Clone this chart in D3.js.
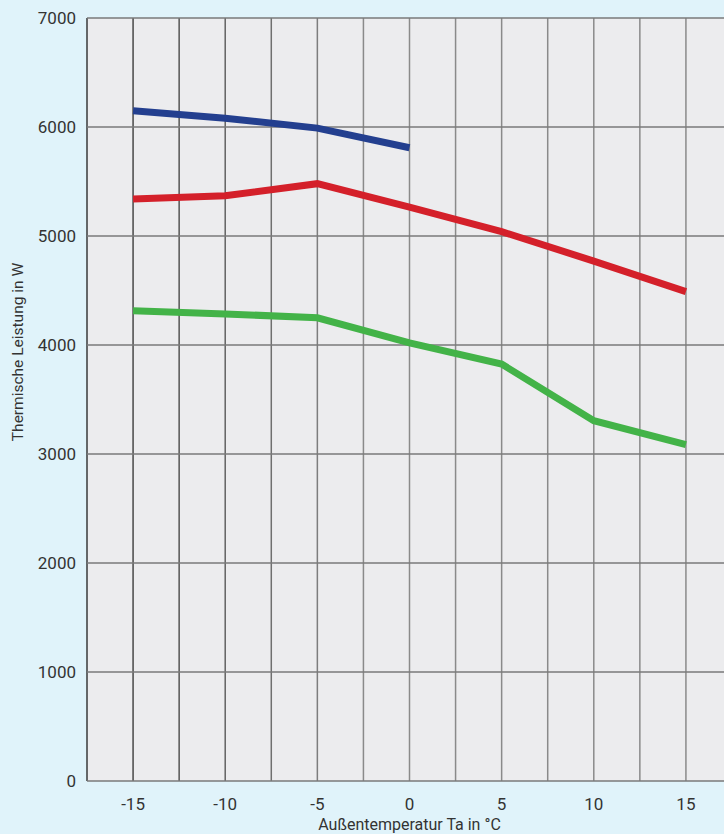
<!DOCTYPE html>
<html><head><meta charset="utf-8">
<script src="https://cdn.jsdelivr.net/npm/d3@7/dist/d3.min.js"></script>
<style>html,body{margin:0;padding:0;background:#e0f3fa;}svg{display:block;}</style>
</head><body>
<script>
const temps = [-15, -10, -5, 0, 5, 10, 15];
const blueValues = [6150, 6080, 5990, 5810];
const redValues = [5340, 5370, 5480, 5265, 5040, 4770, 4490];
const greenValues = [4315, 4285, 4250, 4020, 3825, 3305, 3085];
const xTicks = [-15, -10, -5, 0, 5, 10, 15];
const yTicks = [0, 1000, 2000, 3000, 4000, 5000, 6000, 7000];
const series = [
  {name: "blue", color: "#233f8f", values: blueValues},
  {name: "red", color: "#d4202a", values: redValues},
  {name: "green", color: "#43b348", values: greenValues}
];

const W = 724, H = 834;
const svg = d3.select("body").append("svg").attr("width", W).attr("height", H);
svg.append("rect").attr("width", W).attr("height", H).attr("fill", "#e0f3fa");

const x = d3.scaleLinear().domain([-17.5, 17.5]).range([87, 732]);
const y = d3.scaleLinear().domain([0, 7000]).range([781, 18]);

svg.append("rect").attr("x", 87).attr("y", 18).attr("width", W - 87).attr("height", 781 - 18).attr("fill", "#ececee");

const g = svg.append("g");
const vgrid = d3.range(-17.5, 17.6, 2.5);
g.selectAll(".vg").data(vgrid).join("line")
  .attr("x1", d => x(d)).attr("x2", d => x(d))
  .attr("y1", y(7000)).attr("y2", y(0))
  .attr("stroke", (d, i) => d3.interpolateRgb("#3a3a3a", "#8a8a8a")(Math.min(1, i / 6)))
  .attr("stroke-width", 1.5);
g.selectAll(".hg").data(yTicks).join("line")
  .attr("x1", 87).attr("x2", W)
  .attr("y1", d => y(d)).attr("y2", d => y(d))
  .attr("stroke", "#7a7a7a").attr("stroke-width", 1.5);

const line = d3.line().x((d, i) => x(temps[i])).y(d => y(d));
series.forEach(s => {
  svg.append("path").datum(s.values).attr("d", line)
    .attr("fill", "none").attr("stroke", s.color).attr("stroke-width", 7)
    .attr("stroke-linejoin", "miter").attr("stroke-linecap", "butt");
});

const font = "Roboto, 'Noto Sans', sans-serif";
svg.selectAll(".yt").data(yTicks).join("text")
  .attr("x", 76).attr("y", d => y(d) + 6)
  .attr("text-anchor", "end").attr("font-family", font).attr("font-size", 17)
  .attr("fill", "#333").text(d => d);
svg.selectAll(".xt").data(xTicks).join("text")
  .attr("x", d => x(d)).attr("y", 810)
  .attr("text-anchor", "middle").attr("font-family", font).attr("font-size", 17)
  .attr("fill", "#333").text(d => d);

svg.append("text").attr("x", x(0)).attr("y", 830).attr("text-anchor", "middle")
  .attr("font-family", font).attr("font-size", 16).attr("fill", "#333")
  .text("Außentemperatur Ta in °C");
svg.append("text").attr("transform", "translate(23," + 352 + ") rotate(-90)")
  .attr("text-anchor", "middle").attr("font-family", font).attr("font-size", 15.5).attr("fill", "#333")
  .text("Thermische Leistung in W");
</script>
</body></html>
